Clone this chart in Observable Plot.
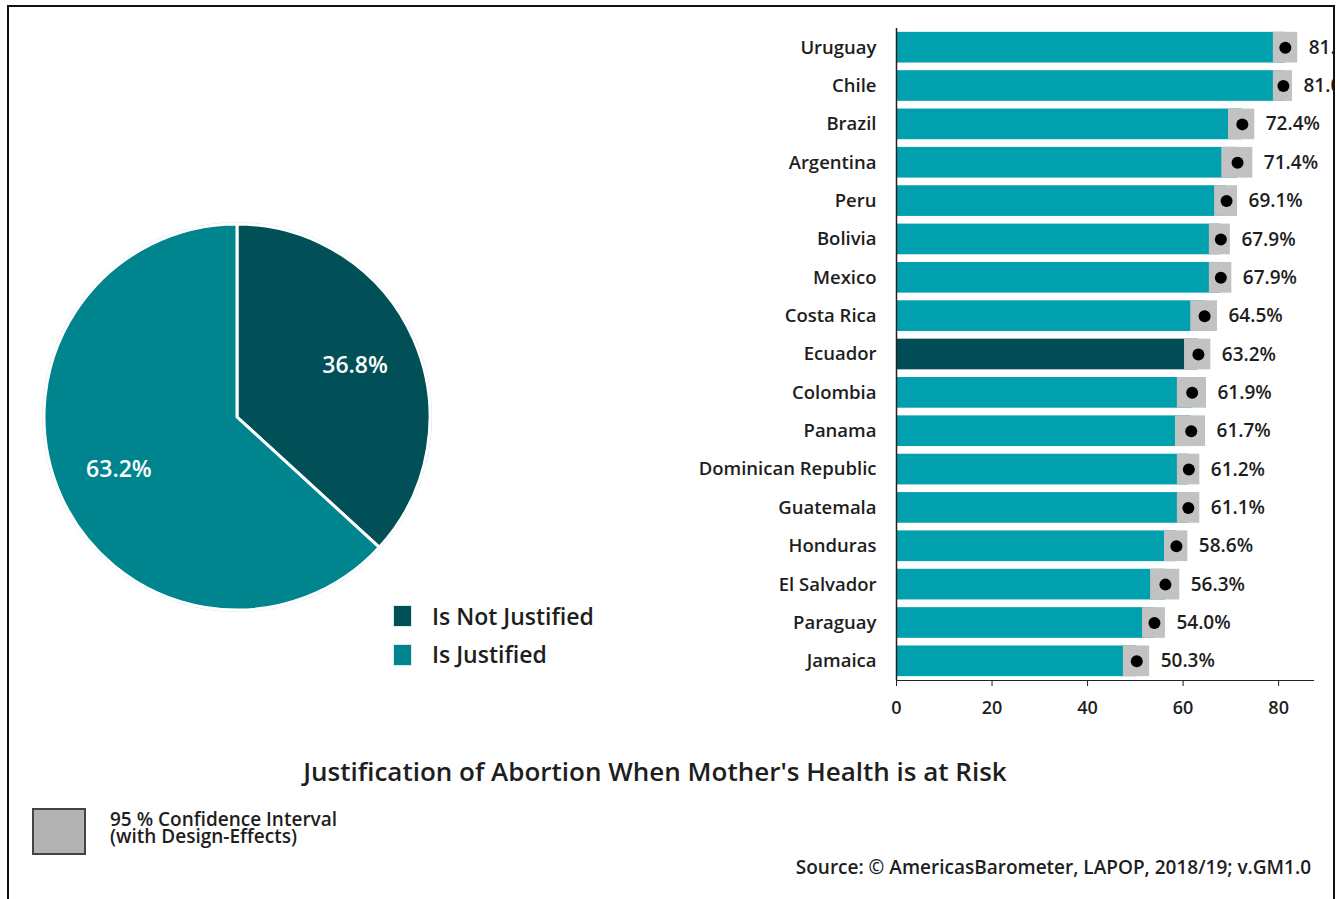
<!DOCTYPE html>
<html>
<head>
<meta charset="utf-8">
<script src="https://cdn.jsdelivr.net/npm/d3@7"></script>
<script src="https://cdn.jsdelivr.net/npm/@observablehq/plot@0.6"></script>
<style>
  html, body { margin: 0; padding: 0; background: #fff; width: 1341px; height: 899px; overflow: hidden; }
  body { position: relative; font-family: "Open Sans", "Noto Sans", sans-serif; color: #1e1e1e; font-weight: 600; }
  .abs { position: absolute; }
  #frame { left: 7px; top: 5px; width: 1328px; height: 905px; border: 2px solid #111; box-sizing: border-box; }
  #barwrap { left: 660px; top: 0px; width: 673px; height: 740px; overflow: hidden; }
  #bar { position: absolute; left: 0; top: 20px; }
  #bar svg, #pie svg { max-width: none !important; }
  #pie { left: 17px; top: 197px; }
  .sw { width: 19px; height: 22px; box-sizing: border-box; border: 1px solid #d6ecee; }
  .lg { font-size: 23px; line-height: 24px; white-space: nowrap; }
  #title { left: 0; width: 1310px; top: 753px; text-align: center; font-size: 26px; white-space: nowrap; }
  #cibox { left: 32px; top: 808px; width: 54px; height: 47px; box-sizing: border-box; background: #b3b3b3; border: 2px solid #444; }
  #citext { left: 110px; top: 811px; font-size: 19px; line-height: 17px; white-space: nowrap; }
  #source { right: 30px; top: 854px; font-size: 19px; white-space: nowrap; }
</style>
</head>
<body>
<div id="barwrap" class="abs"><div id="bar"></div></div>
<div id="pie" class="abs"></div>
<div class="abs sw" style="left:393px;top:605px;background:#014f57"></div>
<div class="abs lg" style="left:432px;top:604px">Is Not Justified</div>
<div class="abs sw" style="left:393px;top:644px;background:#00858f"></div>
<div class="abs lg" style="left:432px;top:642px">Is Justified</div>
<div id="title" class="abs">Justification of Abortion When Mother's Health is at Risk</div>
<div id="cibox" class="abs"></div>
<div id="citext" class="abs">95 % Confidence Interval<br>(with Design-Effects)</div>
<div id="source" class="abs">Source: © AmericasBarometer, LAPOP, 2018/19; v.GM1.0</div>
<div id="frame" class="abs"></div>
<script>
// ---- Data ----
const countries = ["Uruguay","Chile","Brazil","Argentina","Peru","Bolivia","Mexico","Costa Rica","Ecuador","Colombia","Panama","Dominican Republic","Guatemala","Honduras","El Salvador","Paraguay","Jamaica"];
const means = [81.4, 81.0, 72.4, 71.4, 69.1, 67.9, 67.9, 64.5, 63.2, 61.9, 61.7, 61.2, 61.1, 58.6, 56.3, 54.0, 50.3];
const ciLow  = [78.9, 78.9, 69.5, 68.1, 66.6, 65.5, 65.5, 61.6, 60.3, 58.8, 58.4, 58.8, 58.8, 56.1, 53.2, 51.5, 47.5];
const ciHigh = [84.0, 82.9, 75.0, 74.6, 71.4, 69.9, 70.2, 67.2, 65.8, 64.9, 64.7, 63.5, 63.5, 61.0, 59.3, 56.3, 53.0];
const highlight = "Ecuador";
const xTicks = [0, 20, 40, 60, 80];

const pieLabels = ["Is Not Justified", "Is Justified"];
const pieValues = [36.8, 63.2];
const pieColors = ["#014f57", "#00858f"];

// ---- Bar chart ----
const rows = countries.map((c, i) => ({country: c, mean: means[i], lo: ciLow[i], hi: ciHigh[i]}));
const bar = Plot.plot({
  width: 681, height: 700,
  marginLeft: 236, marginRight: 28, marginTop: 8, marginBottom: 40,
  style: {fontFamily: "'Open Sans', sans-serif", fontWeight: 600, color: "#1e1e1e", background: "transparent", maxWidth: "none"},
  x: {domain: [0, 87.3]},
  y: {domain: countries, paddingInner: 0.2, paddingOuter: 0.1, round: false},
  marks: [
    Plot.barX(rows, {y: "country", x: "mean", fill: d => d.country === highlight ? "#014c55" : "#00a0ae"}),
    Plot.barX(rows, {y: "country", x1: "lo", x2: "hi", fill: "#c2c2c2"}),
    Plot.dot(rows, {y: "country", x: "mean", r: 6, fill: "#000", stroke: "none"}),
    Plot.text(rows, {y: "country", x: "hi", text: d => d.mean.toFixed(1) + "%", dx: 11, textAnchor: "start", fontSize: 19, fill: "#1e1e1e"}),
    Plot.ruleX([0], {stroke: "#222", strokeWidth: 1.5}),
    Plot.frame({anchor: "bottom", stroke: "#222"}),
    Plot.axisY({tickSize: 0, tickPadding: 20, fontSize: 18.5, label: null}),
    Plot.axisX({ticks: xTicks, tickSize: 6, tickPadding: 15, fontSize: 18, label: null})
  ]
});
document.getElementById("bar").appendChild(bar);

// ---- Pie chart ----
const pieData = pieLabels.map((l, i) => ({label: l, value: pieValues[i], color: pieColors[i]}));
const pie = Plot.plot({
  width: 440, height: 440, margin: 0,
  style: {background: "transparent"},
  marks: [
    (index, scales, values, dims) => {
      const cx = dims.width / 2, cy = dims.height / 2, R = 193;
      const arcs = d3.pie().sort(null).value(d => d.value)(pieData);
      const arc = d3.arc().innerRadius(0).outerRadius(R);
      const labelArc = d3.arc().innerRadius(129).outerRadius(129);
      const g = d3.create("svg:g").attr("transform", `translate(${cx},${cy})`);
      g.append("circle").attr("r", R + 1.5).attr("fill", "none").attr("stroke", "#cfe3e5").attr("stroke-width", 1);
      g.selectAll("path").data(arcs).join("path")
        .attr("d", arc).attr("fill", d => d.data.color)
        .attr("stroke", "#fff").attr("stroke-width", 3).attr("stroke-linejoin", "round");
      g.selectAll("text").data(arcs).join("text")
        .attr("transform", d => `translate(${labelArc.centroid(d)})`)
        .attr("text-anchor", "middle").attr("dy", "0.35em")
        .attr("fill", "#fff").attr("font-size", 23).attr("font-weight", 600)
        .attr("font-family", "'Open Sans', sans-serif")
        .text(d => d.data.value.toFixed(1) + "%");
      return g.node();
    }
  ]
});
document.getElementById("pie").appendChild(pie);
</script>
</body>
</html>
